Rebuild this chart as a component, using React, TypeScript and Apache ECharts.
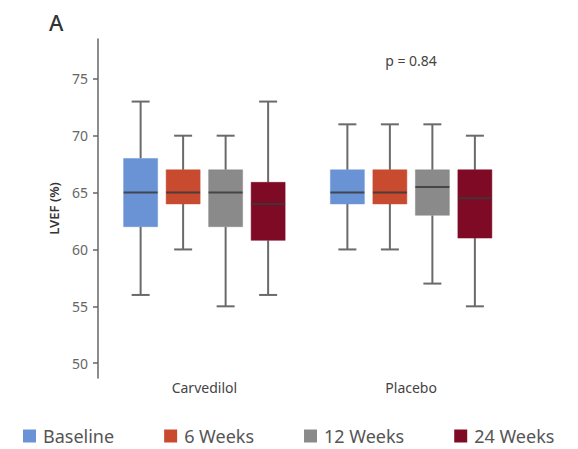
import React, { useEffect, useRef } from "react";
import * as echarts from "echarts";

const categories = ["Carvedilol", "Placebo"];
const seriesNames = ["Baseline", "6 Weeks", "12 Weeks", "24 Weeks"];
const seriesColors = ["#6A93D6", "#C84B30", "#8A8A8A", "#7E0A25"];
// [min, Q1, median, Q3, max] for Carvedilol, Placebo
const baseline = [
  [56, 62, 65, 68, 73],
  [60, 64, 65, 67, 71],
];
const weeks6 = [
  [60, 64, 65, 67, 70],
  [60, 64, 65, 67, 71],
];
const weeks12 = [
  [55, 62, 65, 67, 70],
  [57, 63, 65.5, 67, 71],
];
const weeks24 = [
  [56, 60.8, 64, 65.9, 73],
  [55, 61, 64.5, 67, 70],
];
const yTicks = [50, 55, 60, 65, 70, 75];
const pValueText = "p = 0.84";

const seriesData = [baseline, weeks6, weeks12, weeks24];

const FONT = "'Noto Sans', 'DejaVu Sans', sans-serif";

export default function App() {
  const ref = useRef<HTMLDivElement>(null);

  useEffect(() => {
    if (!ref.current) return;
    const chart = echarts.init(ref.current, null, { renderer: "svg" });

    const step = 42.5 / 206.75;
    const boxFrac = 34 / 206.75;
    const capFrac = 18 / 206.75;

    const renderItem = (params: any, api: any) => {
      const cat = api.value(0);
      const vMin = api.value(1);
      const q1 = api.value(2);
      const med = api.value(3);
      const q3 = api.value(4);
      const vMax = api.value(5);
      const band = api.size([1, 0])[0];
      const base = api.coord([cat, med]);
      const cx = base[0] + (params.seriesIndex - 1.5) * step * band;
      const bw = boxFrac * band;
      const cw = capFrac * band;
      const yMin = api.coord([cat, vMin])[1];
      const yQ1 = api.coord([cat, q1])[1];
      const yMed = api.coord([cat, med])[1];
      const yQ3 = api.coord([cat, q3])[1];
      const yMax = api.coord([cat, vMax])[1];
      const color = seriesColors[params.seriesIndex];
      const whisker = { stroke: "#6a6a6a", lineWidth: 2 };
      return {
        type: "group",
        children: [
          { type: "line", shape: { x1: cx, y1: yMax, x2: cx, y2: yQ3 }, style: whisker },
          { type: "line", shape: { x1: cx, y1: yQ1, x2: cx, y2: yMin }, style: whisker },
          { type: "line", shape: { x1: cx - cw / 2, y1: yMax, x2: cx + cw / 2, y2: yMax }, style: whisker },
          { type: "line", shape: { x1: cx - cw / 2, y1: yMin, x2: cx + cw / 2, y2: yMin }, style: whisker },
          {
            type: "rect",
            shape: { x: cx - bw / 2, y: yQ3, width: bw, height: yQ1 - yQ3 },
            style: { fill: color, stroke: color, lineWidth: 0.5 },
          },
          {
            type: "line",
            shape: { x1: cx - bw / 2, y1: yMed, x2: cx + bw / 2, y2: yMed },
            style: { stroke: "#3a3a3a", lineWidth: 2, opacity: 0.85 },
          },
        ],
      };
    };

    const series = seriesNames.map((name, i) => ({
      type: "custom",
      name,
      renderItem,
      itemStyle: { color: seriesColors[i] },
      encode: { x: 0, y: [1, 2, 3, 4, 5] },
      data: seriesData[i].map((d, ci) => [ci, ...d]),
    }));

    chart.setOption({
      animation: false,
      textStyle: { fontFamily: FONT },
      title: {
        text: "A",
        left: 44,
        top: 6,
        textStyle: { fontSize: 22, fontWeight: 500, color: "#333", fontFamily: FONT },
      },
      grid: { left: 101, width: 413.5, top: 39, bottom: 71 },
      xAxis: {
        type: "category",
        data: categories,
        axisLine: { show: false },
        axisTick: { show: false },
        axisLabel: { fontSize: 14, color: "#444", margin: 2, fontFamily: FONT },
        splitLine: { show: false },
      },
      yAxis: {
        type: "value",
        min: 48.7,
        max: 78.5,
        offset: 3,
        name: "LVEF (%)",
        nameLocation: "middle",
        nameGap: 38,
        nameTextStyle: { fontSize: 13, fontWeight: 600, color: "#333", fontFamily: FONT },
        axisLine: { show: true, lineStyle: { color: "#666", width: 1.5 } },
        axisTick: { show: true, length: 5, customValues: yTicks, lineStyle: { color: "#666", width: 1.5 } },
        axisLabel: { fontSize: 14, color: "#666", margin: 10, customValues: yTicks, fontFamily: FONT },
        splitLine: { show: false },
      },
      legend: {
        data: seriesNames,
        left: 18,
        top: 422,
        icon: "rect",
        itemWidth: 13,
        itemHeight: 13,
        itemGap: 50,
        textStyle: { fontSize: 18, lineHeight: 18, color: "#555", fontFamily: FONT, padding: [0, 0, 0, 2] },
      },
      graphic: [
        {
          type: "text",
          x: 411,
          y: 60,
          style: {
            text: pValueText,
            fontSize: 14,
            fill: "#444",
            fontFamily: FONT,
            textAlign: "center",
            textVerticalAlign: "middle",
          },
        },
      ],
      series,
    });

    return () => chart.dispose();
  }, []);

  return (
    <div
      ref={ref}
      style={{ position: "fixed", left: 0, top: 0, width: 578, height: 449, background: "#fff" }}
    />
  );
}
